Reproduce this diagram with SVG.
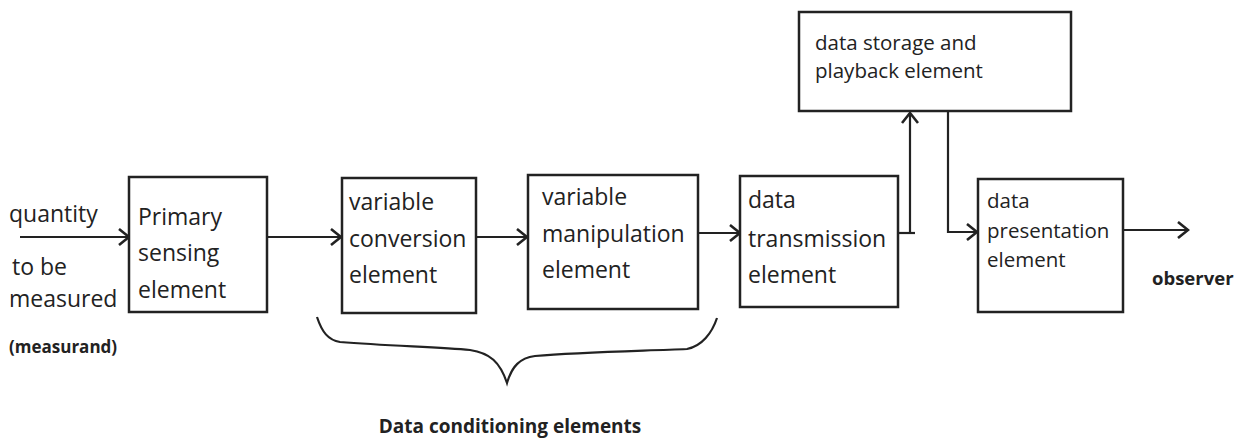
<svg xmlns="http://www.w3.org/2000/svg" width="1249" height="439" viewBox="0 0 1249 439">
<style>
.box{fill:#fff;stroke:#222;stroke-width:2.5}
.t{font-family:"Open Sans","Liberation Sans",sans-serif;font-size:23px;fill:#222}
.ts{font-family:"Open Sans","Liberation Sans",sans-serif;font-size:20.5px;fill:#222}
.tb{font-family:"Open Sans","Liberation Sans",sans-serif;font-size:17px;font-weight:bold;fill:#222}
.ln{fill:none;stroke:#222;stroke-width:2.2}
</style>
<defs>
<marker id="arr" viewBox="0 0 14 18" refX="12" refY="9" markerWidth="14" markerHeight="18" markerUnits="userSpaceOnUse" orient="auto">
<path d="M2,1 L12,9 L2,17" fill="none" stroke="#222" stroke-width="2.6"/>
</marker>
</defs>
<rect width="1249" height="439" fill="#fff"/>
<g id="connectors">
<line class="ln" x1="20" y1="237" x2="129" y2="237" marker-end="url(#arr)"/>
<line class="ln" x1="267" y1="237" x2="341" y2="237" marker-end="url(#arr)"/>
<line class="ln" x1="476" y1="237" x2="527" y2="237" marker-end="url(#arr)"/>
<line class="ln" x1="698" y1="233" x2="740" y2="233" marker-end="url(#arr)"/>
<polyline class="ln" points="898,233 915,233"/>
<polyline class="ln" points="910,233 910,113" marker-end="url(#arr)"/>
<polyline class="ln" points="948,111 948,232 977,232" marker-end="url(#arr)"/>
<line class="ln" x1="1123" y1="230" x2="1188" y2="230" marker-end="url(#arr)"/>
<path class="ln" d="M317,317 C322,332 328,340 340,342 C390,346 440,347 470,350 C490,353 500,362 507,383 C512,366 520,358 535,356 C580,352 640,351 687,349 C702,346 712,333 717,318" stroke-width="2.6"/>
</g>
<g id="input-label">
<text class="t" x="9" y="222">quantity</text>
<text class="t" x="12" y="275">to be</text>
<text class="t" x="9" y="307">measured</text>
<text class="tb" x="9" y="353">(measurand)</text>
</g>
<g id="primary">
<rect class="box" x="129" y="177" width="138" height="135"/>
<text class="t" x="138" y="225">Primary</text>
<text class="t" x="138" y="261">sensing</text>
<text class="t" x="138" y="298">element</text>
</g>
<g id="conversion">
<rect class="box" x="342" y="178" width="134" height="135"/>
<text class="t" x="349" y="210">variable</text>
<text class="t" x="349" y="247">conversion</text>
<text class="t" x="349" y="283">element</text>
</g>
<g id="manipulation">
<rect class="box" x="528" y="175" width="170" height="134"/>
<text class="t" x="542" y="205">variable</text>
<text class="t" x="542" y="242">manipulation</text>
<text class="t" x="542" y="278">element</text>
</g>
<g id="transmission">
<rect class="box" x="740" y="176" width="158" height="131"/>
<text class="t" x="748" y="208">data</text>
<text class="t" x="748" y="247">transmission</text>
<text class="t" x="748" y="283">element</text>
</g>
<g id="storage">
<rect class="box" x="799" y="12" width="272" height="99"/>
<text class="ts" x="815" y="50">data storage and</text>
<text class="ts" x="815" y="78">playback element</text>
</g>
<g id="presentation">
<rect class="box" x="978" y="179" width="145" height="133"/>
<text class="ts" x="987" y="208">data</text>
<text class="ts" x="987" y="238">presentation</text>
<text class="ts" x="987" y="267">element</text>
</g>
<g id="observer">
<text class="tb" x="1152" y="285" style="font-size:18.5px">observer</text>
</g>
<g id="brace-label">
<text class="tb" x="510" y="433" text-anchor="middle" style="font-size:19px">Data conditioning elements</text>
</g>
</svg>
